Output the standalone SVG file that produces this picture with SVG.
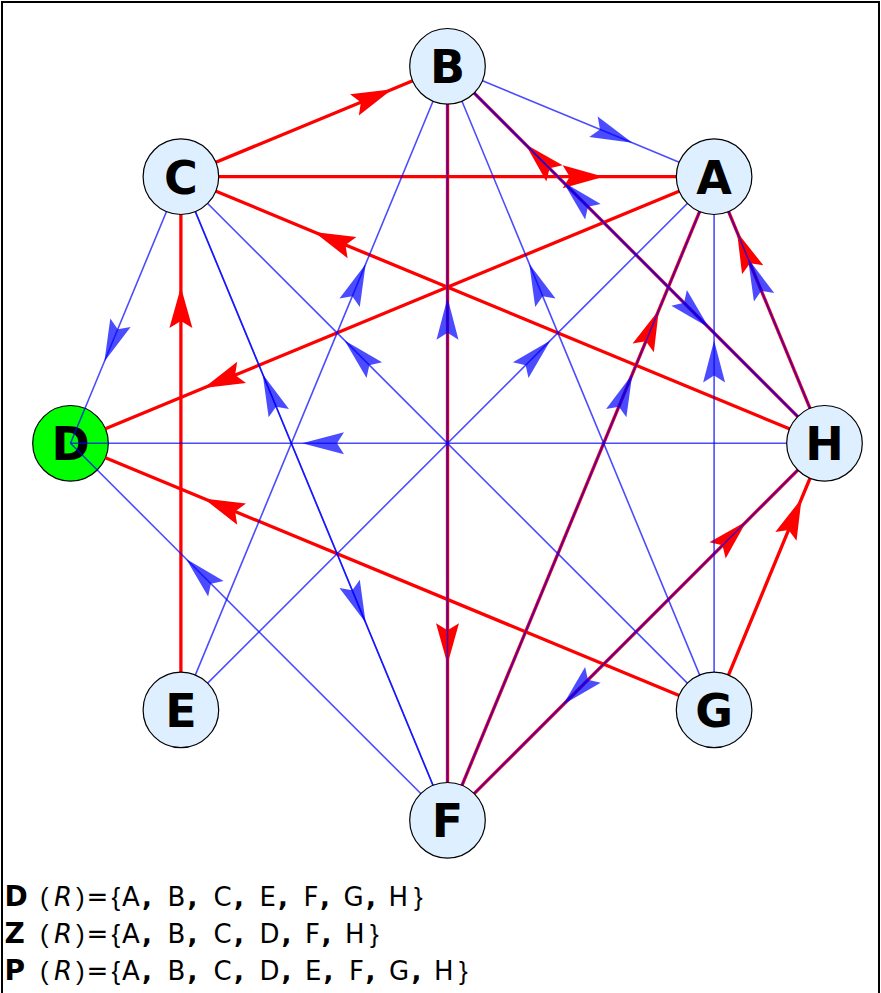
<svg xmlns="http://www.w3.org/2000/svg" width="881" height="993" viewBox="0 0 881 993">
<style>
.red{fill:none;stroke:#ff0000;stroke-width:3.3;marker-mid:url(#ahr)}
.blue{fill:none;stroke:#0000ff;stroke-opacity:0.7;stroke-width:1.6;marker-mid:url(#ahb)}
.node circle{fill:#deefff;stroke:#000;stroke-width:1.2}
.node text{font-family:"DejaVu Sans",sans-serif;font-weight:bold;font-size:46px;text-anchor:middle;fill:#000}
.lbl{font-family:"DejaVu Sans",sans-serif;font-size:26px;fill:#000}
.b{font-weight:bold}
.h{font-weight:bold;font-size:28px}
.i{font-style:italic}
.p{font-family:"Liberation Sans",Arial,sans-serif}
</style>
<defs>
<marker id="ahr" markerUnits="userSpaceOnUse" orient="auto" viewBox="-45 -15 50 30" markerWidth="50" markerHeight="30" refX="0" refY="0">
<path d="M0,0 L-41,-11.5 L-34,0 L-41,11.5 Z" fill="#ff0000"/>
</marker>
<marker id="ahb" markerUnits="userSpaceOnUse" orient="auto" viewBox="-45 -15 50 30" markerWidth="50" markerHeight="30" refX="0" refY="0">
<path d="M0,0 L-42,-11 L-35,0 L-42,11 Z" fill="#0000ff" fill-opacity="0.7"/>
</marker>
</defs>
<rect x="0" y="0" width="881" height="993" fill="#ffffff"/>
<path d="M2,993 V2 H879 V993" fill="none" stroke="#000" stroke-width="2"/>
<g id="node-D" class="node">
<circle cx="70.5" cy="443.3" r="37.8" style="fill:#00ff00"/>
<text x="70.5" y="460.3">D</text>
</g>
<g id="connectors">
<g id="red-edges">
<path class="red" d="M180.9,176.7 L392.3,89.2 L447.5,66.3"/>
<path class="red" d="M180.9,176.7 L603.7,176.7 L714.1,176.7"/>
<path class="red" d="M824.5,443.3 L314.1,231.9 L180.9,176.7"/>
<path class="red" d="M714.1,176.7 L203.7,388.1 L105.4,428.8"/>
<path class="red" d="M714.1,709.9 L203.7,498.5 L105.4,457.8"/>
<path class="red" d="M180.9,709.9 L180.9,287.1 L180.9,176.7"/>
<path class="red" d="M714.1,709.9 L801.6,498.5 L824.5,443.3"/>
<path class="red" d="M824.5,443.3 L737,231.9 L714.1,176.7"/>
<path class="red" d="M447.5,820.3 L658.9,309.9 L714.1,176.7"/>
<path class="red" d="M447.5,820.3 L746.5,521.3 L824.5,443.3"/>
<path class="red" d="M824.5,443.3 L525.5,144.3 L447.5,66.3"/>
<path class="red" d="M447.5,66.3 L447.5,664.2 L447.5,820.3"/>
</g>
<g id="blue-edges">
<path class="blue" d="M447.5,66.3 L632.3,142.8 L714.1,176.7"/>
<path class="blue" d="M180.9,176.7 L104.4,361.5 L70.5,443.3"/>
<path class="blue" d="M180.9,176.7 L365.7,622.7 L447.5,820.3"/>
<path class="blue" d="M447.5,820.3 L262.7,374.3 L180.9,176.7"/>
<path class="blue" d="M714.1,709.9 L344.6,340.4 L180.9,176.7"/>
<path class="blue" d="M180.9,709.9 L365.7,263.9 L447.5,66.3"/>
<path class="blue" d="M180.9,709.9 L550.4,340.4 L714.1,176.7"/>
<path class="blue" d="M824.5,443.3 L302,443.3 L70.5,443.3"/>
<path class="blue" d="M447.5,820.3 L186.2,559 L70.5,443.3"/>
<path class="blue" d="M714.1,709.9 L529.3,263.9 L447.5,66.3"/>
<path class="blue" d="M714.1,709.9 L714.1,340.4 L714.1,176.7"/>
<path class="blue" d="M447.5,820.3 L447.5,297.8 L447.5,66.3"/>
<path class="blue" d="M447.5,66.3 L708.8,327.6 L824.5,443.3"/>
<path class="blue" d="M824.5,443.3 L563.2,182 L447.5,66.3"/>
<path class="blue" d="M824.5,443.3 L748,258.5 L714.1,176.7"/>
<path class="blue" d="M447.5,820.3 L632.3,374.3 L714.1,176.7"/>
<path class="blue" d="M824.5,443.3 L563.2,704.6 L447.5,820.3"/>
</g>
</g>
<g id="node-B" class="node"><circle cx="447.5" cy="66.3" r="37.8"/><text x="447.5" y="83.3">B</text></g>
<g id="node-A" class="node"><circle cx="714.1" cy="176.7" r="37.8"/><text x="714.1" y="193.7">A</text></g>
<g id="node-H" class="node"><circle cx="824.5" cy="443.3" r="37.8"/><text x="824.5" y="460.3">H</text></g>
<g id="node-G" class="node"><circle cx="714.1" cy="709.9" r="37.8"/><text x="714.1" y="726.9">G</text></g>
<g id="node-F" class="node"><circle cx="447.5" cy="820.3" r="37.8"/><text x="447.5" y="837.3">F</text></g>
<g id="node-E" class="node"><circle cx="180.9" cy="709.9" r="37.8"/><text x="180.9" y="726.9">E</text></g>
<g id="node-C" class="node"><circle cx="180.9" cy="176.7" r="37.8"/><text x="180.9" y="193.7">C</text></g>
<g id="legend" class="lbl">
<text y="906"><tspan x="4.5" class="h">D</tspan><tspan x="40" class="p">(</tspan><tspan x="54" class="i">R</tspan><tspan x="76" class="p">)</tspan><tspan x="86.5">=</tspan><tspan x="111.5" class="p">{</tspan><tspan x="122">A</tspan><tspan x="142" class="b">,</tspan><tspan x="167.5">B</tspan><tspan x="187.5" class="b">,</tspan><tspan x="213.5">C</tspan><tspan x="234" class="b">,</tspan><tspan x="259.5">E</tspan><tspan x="278" class="b">,</tspan><tspan x="303.5">F</tspan><tspan x="320" class="b">,</tspan><tspan x="343.5">G</tspan><tspan x="366" class="b">,</tspan><tspan x="388.5">H</tspan><tspan x="414" class="p">}</tspan></text>
<text y="943"><tspan x="4.5" class="h">Z</tspan><tspan x="40" class="p">(</tspan><tspan x="54" class="i">R</tspan><tspan x="76" class="p">)</tspan><tspan x="86.5">=</tspan><tspan x="111.5" class="p">{</tspan><tspan x="122">A</tspan><tspan x="142" class="b">,</tspan><tspan x="167.5">B</tspan><tspan x="187.5" class="b">,</tspan><tspan x="213.5">C</tspan><tspan x="234" class="b">,</tspan><tspan x="259.5">D</tspan><tspan x="281.5" class="b">,</tspan><tspan x="305">F</tspan><tspan x="321.5" class="b">,</tspan><tspan x="345">H</tspan><tspan x="370" class="p">}</tspan></text>
<text y="980"><tspan x="4.5" class="h">P</tspan><tspan x="40" class="p">(</tspan><tspan x="54" class="i">R</tspan><tspan x="76" class="p">)</tspan><tspan x="86.5">=</tspan><tspan x="111.5" class="p">{</tspan><tspan x="122">A</tspan><tspan x="142" class="b">,</tspan><tspan x="167.5">B</tspan><tspan x="187.5" class="b">,</tspan><tspan x="213.5">C</tspan><tspan x="234" class="b">,</tspan><tspan x="259.5">D</tspan><tspan x="281.5" class="b">,</tspan><tspan x="305">E</tspan><tspan x="323.5" class="b">,</tspan><tspan x="349">F</tspan><tspan x="365.5" class="b">,</tspan><tspan x="389">G</tspan><tspan x="411.5" class="b">,</tspan><tspan x="434">H</tspan><tspan x="459" class="p">}</tspan></text>
</g>
</svg>
